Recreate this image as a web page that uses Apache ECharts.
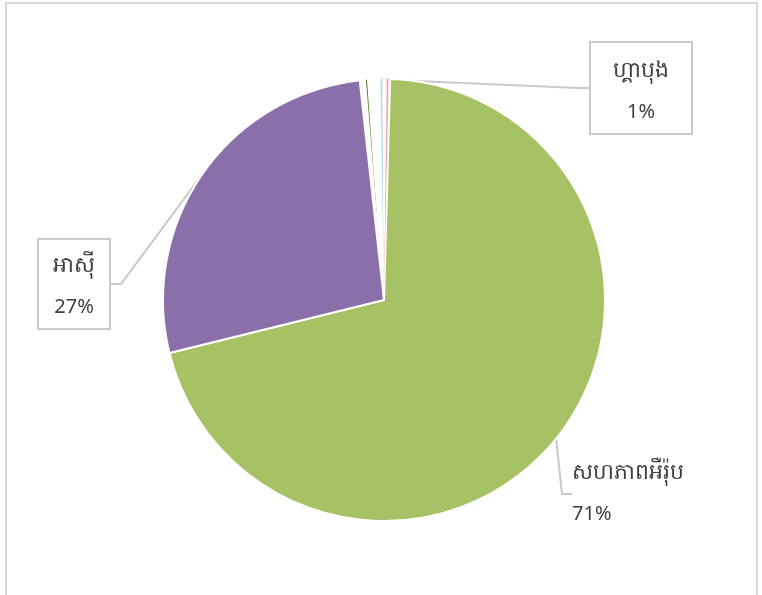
<!DOCTYPE html>
<html>
<head>
<meta charset="utf-8">
<script src="https://cdn.jsdelivr.net/npm/echarts@6/dist/echarts.min.js"></script>
<style>
  html, body { margin: 0; padding: 0; background: #fff; }
  #chart { width: 762px; height: 595px; }
</style>
</head>
<body>
<div id="chart"></div>
<script>
// slices clockwise from the top (unnamed ones are the thin unlabeled wedges)
const names = ['សហភាពអឺរ៉ុប', 'អាស៊ី', '', '', 'ហ្គាបុង', '', '', '', '']
const values = [70.7, 27.1, 0.45, 0.15, 0.9, 0.15, 0.3, 0.15, 0.1]
const colors = ['#a6c264', '#8a6faa', '#ffffff', '#5a7a2c', '#ffffff', '#b8dde8', '#ffffff', '#f2a6a6', '#ffffff']

const chart = echarts.init(document.getElementById('chart'))

// where each callout box sits
const labelPos = {
  0: { x: 572, y: 494, align: 'left' },
  1: { x: 74, y: 284, align: 'center' },
  4: { x: 641, y: 88, align: 'center' }
}

const font = 'Noto Sans, DejaVu Sans, sans-serif'

const option = {
  backgroundColor: '#fff',
  graphic: [
    {
      type: 'rect',
      shape: { x: 6, y: 3, width: 751, height: 620 },
      style: { fill: 'none', stroke: '#d9d9d9', lineWidth: 2 },
      silent: true
    }
  ],
  series: [
    {
      type: 'pie',
      center: [384, 300],
      radius: 221,
      startAngle: 88.4,
      clockwise: true,
      percentPrecision: 0,
      avoidLabelOverlap: false,
      itemStyle: { borderColor: '#fff', borderWidth: 2 },
      label: {
        show: true,
        formatter: '{n|{b}}\n{p|{d}%}',
        backgroundColor: '#fff',
        borderColor: '#c9c9c9',
        borderWidth: 2,
        padding: [6, 14, 0, 14],
        rich: {
          n: { fontSize: 22, lineHeight: 40, color: '#404040', fontFamily: font },
          p: { fontSize: 20, lineHeight: 42, color: '#404040', fontFamily: font }
        }
      },
      labelLine: {
        show: true,
        length: 10,
        length2: 10,
        lineStyle: { color: '#c9c9c9', width: 2 }
      },
      labelLayout: function (params) {
        const p = labelPos[params.dataIndex]
        if (!p) return {}
        return { x: p.x, y: p.y, align: p.align, verticalAlign: 'middle' }
      },
      emphasis: { disabled: true },
      data: names.map(function (n, i) {
        const item = { name: n, value: values[i], itemStyle: { color: colors[i] } }
        if (!n) {
          item.label = { show: false }
          item.labelLine = { show: false }
          item.itemStyle.borderWidth = 0
        }
        if (i === 0) {
          item.label = { backgroundColor: 'transparent', borderWidth: 0, padding: [2, 0] }
        }
        if (i === 4) {
          item.label = { padding: [8, 22, 0, 22] }
        }
        return item
      })
    }
  ]
}

chart.setOption(option)
</script>
</body>
</html>
